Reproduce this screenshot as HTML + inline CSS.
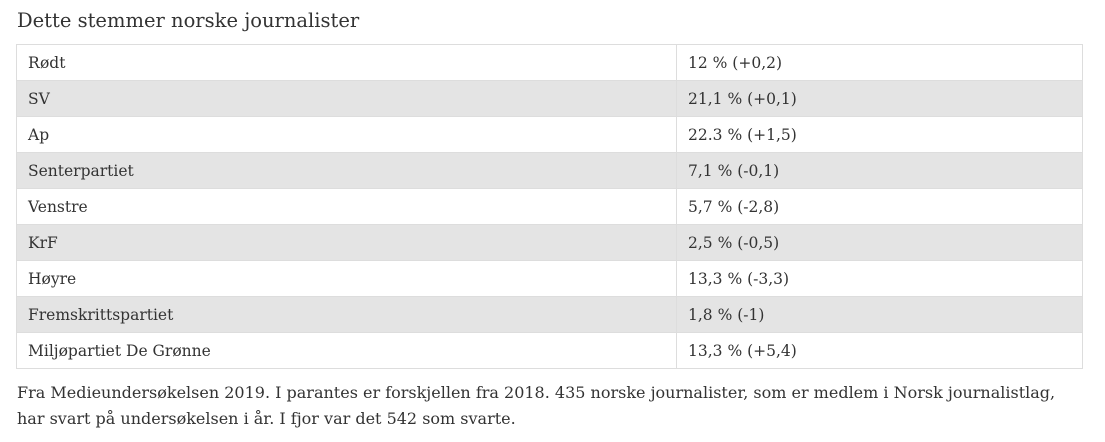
<!DOCTYPE html>
<html><head><meta charset="utf-8"><style>
body{margin:0;width:1105px;height:442px;background:#fff;font-family:"DejaVu Serif","Liberation Serif",serif;color:#333;overflow:hidden}
h2{position:absolute;left:17px;top:9px;margin:0;font-weight:normal;font-size:19.5px;color:#333;white-space:nowrap}
table{position:absolute;left:16px;top:44px;width:1067px;border-collapse:collapse;font-size:15.5px}
td{height:35px;border:1px solid #ddd;padding:0 11px;vertical-align:middle}
tr:nth-child(even) td{background:#e4e4e4}
td.v{width:383px}
p{position:absolute;left:17px;top:380px;margin:0;font-size:16px;line-height:26px;width:1100px;white-space:nowrap}
</style></head><body>
<h2>Dette stemmer norske journalister</h2>
<table><tbody>
<tr><td>Rødt</td><td class="v">12 % (+0,2)</td></tr>
<tr><td>SV</td><td class="v">21,1 % (+0,1)</td></tr>
<tr><td>Ap</td><td class="v">22.3 % (+1,5)</td></tr>
<tr><td>Senterpartiet</td><td class="v">7,1 % (-0,1)</td></tr>
<tr><td>Venstre</td><td class="v">5,7 % (-2,8)</td></tr>
<tr><td>KrF</td><td class="v">2,5 % (-0,5)</td></tr>
<tr><td>Høyre</td><td class="v">13,3 % (-3,3)</td></tr>
<tr><td>Fremskrittspartiet</td><td class="v">1,8 % (-1)</td></tr>
<tr><td>Miljøpartiet De Grønne</td><td class="v">13,3 % (+5,4)</td></tr>
</tbody></table>
<p>Fra Medieundersøkelsen 2019. I parantes er forskjellen fra 2018. 435 norske journalister, som er medlem i Norsk journalistlag,<br>har svart på undersøkelsen i år. I fjor var det 542 som svarte.</p>
</body></html>
